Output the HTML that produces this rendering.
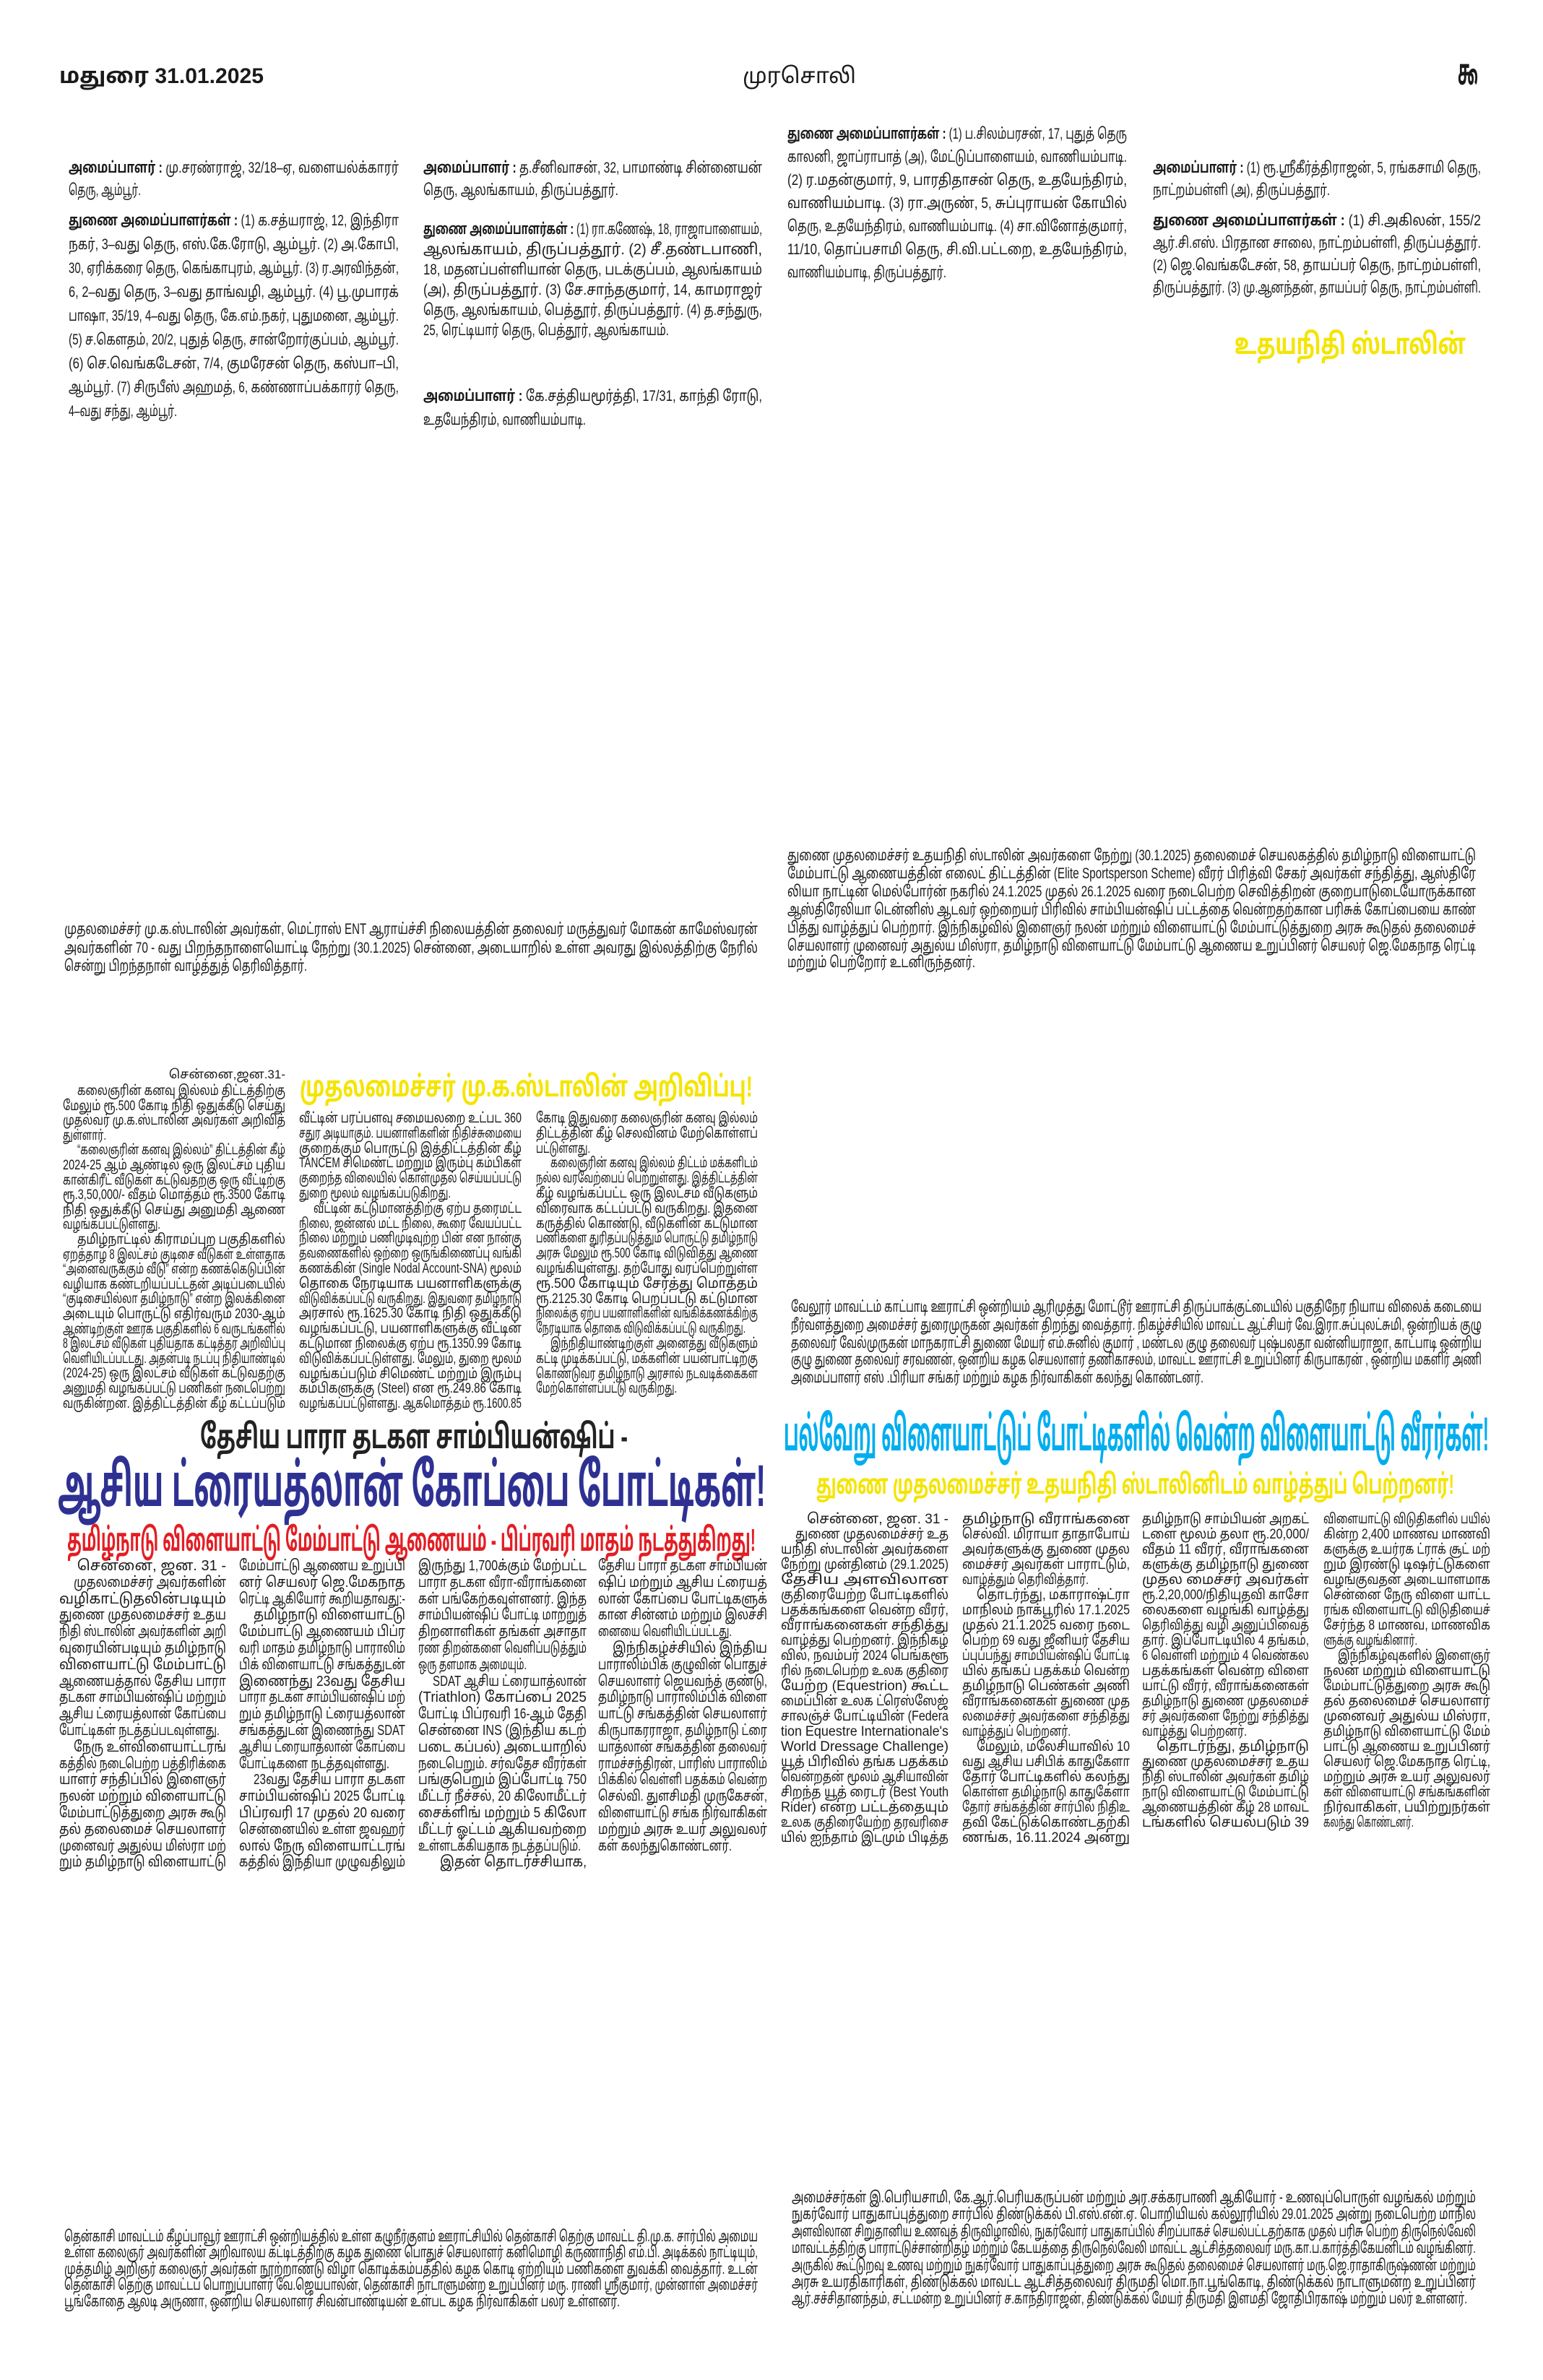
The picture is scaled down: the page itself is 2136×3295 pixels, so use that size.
<!DOCTYPE html>
<html><head><meta charset="utf-8">
<style>
html,body{margin:0;padding:0;background:#fff;}
svg{display:block;}
text{font-family:"Liberation Sans","Noto Sans Tamil","Lohit Tamil",sans-serif;fill:#1a1a1a;}
.t{font-size:21px;}
.c{font-size:21px;}
.a{font-size:19px;}
.b{font-size:20px;}
.r{font-size:19px;}
.h{font-weight:bold;}
</style></head><body>
<svg width="2136" height="3295" viewBox="0 0 2136 3295" xmlns="http://www.w3.org/2000/svg">
<rect width="2136" height="3295" fill="#fff"/>
<!-- header -->
<text x="82" y="115" font-size="30" class="h" textLength="283" lengthAdjust="spacingAndGlyphs">மதுரை  31.01.2025</text>
<text x="1028" y="115" font-size="30" textLength="157" lengthAdjust="spacingAndGlyphs">முரசொலி</text>
<text x="2018" y="117" font-size="50" class="h" textLength="28" lengthAdjust="spacingAndGlyphs">௯</text>

<!-- top col1 -->
<g class="t">
<text x="95" y="239" textLength="457" lengthAdjust="spacingAndGlyphs"><tspan font-weight="bold">அமைப்பாளர் :</tspan> மு.சரண்ராஜ், 32/18–ஏ, வளையல்க்காரர்</text>
<text x="95" y="270" textLength="100" lengthAdjust="spacingAndGlyphs">தெரு, ஆம்பூர்.</text>
<text x="95" y="312" textLength="457" lengthAdjust="spacingAndGlyphs"><tspan font-weight="bold">துணை அமைப்பாளர்கள் :</tspan> (1) க.சத்யராஜ், 12, இந்திரா</text>
<text x="95" y="345" textLength="457" lengthAdjust="spacingAndGlyphs">நகர், 3–வது தெரு, எஸ்.கே.ரோடு, ஆம்பூர். (2) அ.கோபி,</text>
<text x="95" y="378" textLength="457" lengthAdjust="spacingAndGlyphs">30, ஏரிக்கரை தெரு, கெங்காபுரம், ஆம்பூர். (3) ர.அரவிந்தன்,</text>
<text x="95" y="411" textLength="457" lengthAdjust="spacingAndGlyphs">6, 2–வது தெரு, 3–வது தாங்வழி, ஆம்பூர். (4) பூ.முபாரக்</text>
<text x="95" y="444" textLength="457" lengthAdjust="spacingAndGlyphs">பாஷா, 35/19, 4–வது தெரு, கே.எம்.நகர், புதுமனை, ஆம்பூர்.</text>
<text x="95" y="477" textLength="457" lengthAdjust="spacingAndGlyphs">(5) ச.கௌதம், 20/2, புதுத் தெரு, சான்றோர்குப்பம், ஆம்பூர்.</text>
<text x="95" y="510" textLength="457" lengthAdjust="spacingAndGlyphs">(6) செ.வெங்கடேசன், 7/4, குமரேசன் தெரு, கஸ்பா–பி,</text>
<text x="95" y="543" textLength="457" lengthAdjust="spacingAndGlyphs">ஆம்பூர். (7) சிருபீஸ் அஹமத், 6, கண்ணாப்பக்காரர் தெரு,</text>
<text x="95" y="576" textLength="150" lengthAdjust="spacingAndGlyphs">4–வது சந்து, ஆம்பூர்.</text>
</g>
<!-- top col2 -->
<g class="t">
<text x="586" y="239" textLength="469" lengthAdjust="spacingAndGlyphs"><tspan font-weight="bold">அமைப்பாளர் :</tspan> த.சீனிவாசன், 32, பாமாண்டி சின்னையன்</text>
<text x="586" y="270" textLength="270" lengthAdjust="spacingAndGlyphs">தெரு, ஆலங்காயம், திருப்பத்தூர்.</text>
<text x="586" y="324" textLength="469" lengthAdjust="spacingAndGlyphs"><tspan font-weight="bold">துணை அமைப்பாளர்கள் :</tspan> (1) ரா.கணேஷ், 18, ராஜாபாளையம்,</text>
<text x="586" y="352" textLength="469" lengthAdjust="spacingAndGlyphs">ஆலங்காயம், திருப்பத்தூர். (2) சீ.தண்டபாணி,</text>
<text x="586" y="380" textLength="469" lengthAdjust="spacingAndGlyphs">18, மதனப்பள்ளியான் தெரு, படக்குப்பம், ஆலங்காயம்</text>
<text x="586" y="408" textLength="469" lengthAdjust="spacingAndGlyphs">(அ), திருப்பத்தூர். (3) சே.சாந்தகுமார், 14, காமராஜர்</text>
<text x="586" y="436" textLength="469" lengthAdjust="spacingAndGlyphs">தெரு, ஆலங்காயம், பெத்தூர், திருப்பத்தூர். (4) த.சந்துரு,</text>
<text x="586" y="464" textLength="340" lengthAdjust="spacingAndGlyphs">25, ரெட்டியார் தெரு, பெத்தூர், ஆலங்காயம்.</text>
<text x="586" y="555" textLength="469" lengthAdjust="spacingAndGlyphs"><tspan font-weight="bold">அமைப்பாளர் :</tspan> கே.சத்தியமூர்த்தி, 17/31, காந்தி ரோடு,</text>
<text x="586" y="588" textLength="225" lengthAdjust="spacingAndGlyphs">உதயேந்திரம், வாணியம்பாடி.</text>
</g>
<!-- top col3 -->
<g class="t">
<text x="1090" y="192" textLength="470" lengthAdjust="spacingAndGlyphs"><tspan font-weight="bold">துணை அமைப்பாளர்கள் :</tspan> (1) ப.சிலம்பரசன், 17, புதுத் தெரு</text>
<text x="1090" y="224" textLength="470" lengthAdjust="spacingAndGlyphs">காலனி, ஜாப்ராபாத் (அ), மேட்டுப்பாளையம், வாணியம்பாடி.</text>
<text x="1090" y="256" textLength="470" lengthAdjust="spacingAndGlyphs">(2) ர.மதன்குமார், 9, பாரதிதாசன் தெரு, உதயேந்திரம்,</text>
<text x="1090" y="288" textLength="470" lengthAdjust="spacingAndGlyphs">வாணியம்பாடி. (3) ரா.அருண், 5, சுப்புராயன் கோயில்</text>
<text x="1090" y="320" textLength="470" lengthAdjust="spacingAndGlyphs">தெரு, உதயேந்திரம், வாணியம்பாடி. (4) சா.வினோத்குமார்,</text>
<text x="1090" y="352" textLength="470" lengthAdjust="spacingAndGlyphs">11/10, தொப்பசாமி தெரு, சி.வி.பட்டறை, உதயேந்திரம்,</text>
<text x="1090" y="384" textLength="220" lengthAdjust="spacingAndGlyphs">வாணியம்பாடி, திருப்பத்தூர்.</text>
</g>
<!-- top col4 -->
<g class="t">
<text x="1596" y="239" textLength="454" lengthAdjust="spacingAndGlyphs"><tspan font-weight="bold">அமைப்பாளர் :</tspan> (1) ரூ.ஸ்ரீகீர்த்திராஜன், 5, ரங்கசாமி தெரு,</text>
<text x="1596" y="270" textLength="245" lengthAdjust="spacingAndGlyphs">நாட்றம்பள்ளி (அ), திருப்பத்தூர்.</text>
<text x="1596" y="312" textLength="454" lengthAdjust="spacingAndGlyphs"><tspan font-weight="bold">துணை அமைப்பாளர்கள் :</tspan> (1) சி.அகிலன், 155/2</text>
<text x="1596" y="343" textLength="454" lengthAdjust="spacingAndGlyphs">ஆர்.சி.எஸ். பிரதான சாலை, நாட்றம்பள்ளி, திருப்பத்தூர்.</text>
<text x="1596" y="374" textLength="454" lengthAdjust="spacingAndGlyphs">(2) ஜெ.வெங்கடேசன், 58, தாயப்பர் தெரு, நாட்றம்பள்ளி,</text>
<text x="1596" y="405" textLength="454" lengthAdjust="spacingAndGlyphs">திருப்பத்தூர். (3) மு.ஆனந்தன், தாயப்பர் தெரு, நாட்றம்பள்ளி.</text>
</g>
<text x="1709" y="490" font-size="40" class="h" style="fill:#f5e400" textLength="320" lengthAdjust="spacingAndGlyphs">உதயநிதி ஸ்டாலின்</text>

<!-- right photo caption -->
<g class="c">
<text x="1090" y="1191" textLength="953" lengthAdjust="spacingAndGlyphs">துணை முதலமைச்சர் உதயநிதி ஸ்டாலின் அவர்களை நேற்று (30.1.2025) தலைமைச் செயலகத்தில் தமிழ்நாடு விளையாட்டு</text>
<text x="1090" y="1216" textLength="953" lengthAdjust="spacingAndGlyphs">மேம்பாட்டு ஆணையத்தின் எலைட் திட்டத்தின் (Elite Sportsperson Scheme) வீரர் பிரித்வி சேகர் அவர்கள் சந்தித்து, ஆஸ்திரே</text>
<text x="1090" y="1241" textLength="953" lengthAdjust="spacingAndGlyphs">லியா நாட்டின் மெல்போர்ன் நகரில் 24.1.2025 முதல் 26.1.2025 வரை நடைபெற்ற செவித்திறன் குறைபாடுடையோருக்கான</text>
<text x="1090" y="1266" textLength="953" lengthAdjust="spacingAndGlyphs">ஆஸ்திரேலியா டென்னிஸ் ஆடவர் ஒற்றையர் பிரிவில் சாம்பியன்ஷிப் பட்டத்தை வென்றதற்கான பரிசுக் கோப்பையை காண்</text>
<text x="1090" y="1291" textLength="953" lengthAdjust="spacingAndGlyphs">பித்து வாழ்த்துப் பெற்றார். இந்நிகழ்வில் இளைஞர் நலன் மற்றும் விளையாட்டு மேம்பாட்டுத்துறை அரசு கூடுதல் தலைமைச்</text>
<text x="1090" y="1316" textLength="953" lengthAdjust="spacingAndGlyphs">செயலாளர் முனைவர் அதுல்ய மிஸ்ரா, தமிழ்நாடு விளையாட்டு மேம்பாட்டு ஆணைய உறுப்பினர் செயலர் ஜெ.மேகநாத ரெட்டி</text>
<text x="1090" y="1339" textLength="260" lengthAdjust="spacingAndGlyphs">மற்றும் பெற்றோர் உடனிருந்தனர்.</text>
</g>
<!-- left photo caption -->
<g class="c">
<text x="89" y="1293" textLength="960" lengthAdjust="spacingAndGlyphs">முதலமைச்சர் மு.க.ஸ்டாலின் அவர்கள், மெட்ராஸ் ENT ஆராய்ச்சி நிலையத்தின் தலைவர் மருத்துவர் மோகன் காமேஸ்வரன்</text>
<text x="89" y="1319" textLength="960" lengthAdjust="spacingAndGlyphs">அவர்களின் 70 - வது பிறந்தநாளையொட்டி நேற்று (30.1.2025) சென்னை, அடையாறில் உள்ள அவரது இல்லத்திற்கு நேரில்</text>
<text x="89" y="1344" textLength="336" lengthAdjust="spacingAndGlyphs">சென்று பிறந்தநாள் வாழ்த்துத் தெரிவித்தார்.</text>
</g>

<!-- Article 1 -->
<text x="415" y="1518" font-size="40" class="h" style="fill:#f5e400" textLength="627" lengthAdjust="spacingAndGlyphs">முதலமைச்சர் மு.க.ஸ்டாலின் அறிவிப்பு!</text>
<text x="395" y="1493" font-size="17" text-anchor="end">சென்னை,ஜன.31-</text>
<g class="a">
<text x="107" y="1516" textLength="288" lengthAdjust="spacingAndGlyphs">கலைஞரின் கனவு இல்லம் திட்டத்திற்கு</text>
<text x="87" y="1537" textLength="308" lengthAdjust="spacingAndGlyphs">மேலும் ரூ.500 கோடி நிதி ஒதுக்கீடு செய்து</text>
<text x="87" y="1557" textLength="308" lengthAdjust="spacingAndGlyphs">முதல்வர் மு.க.ஸ்டாலின் அவர்கள் அறிவித்</text>
<text x="87" y="1578" textLength="60" lengthAdjust="spacingAndGlyphs">துள்ளார்.</text>
<text x="107" y="1598" textLength="288" lengthAdjust="spacingAndGlyphs">“கலைஞரின் கனவு இல்லம்” திட்டத்தின் கீழ்</text>
<text x="87" y="1619" textLength="308" lengthAdjust="spacingAndGlyphs">2024-25 ஆம் ஆண்டில் ஒரு இலட்சம் புதிய</text>
<text x="87" y="1640" textLength="308" lengthAdjust="spacingAndGlyphs">கான்கிரீட் வீடுகள் கட்டுவதற்கு ஒரு வீட்டிற்கு</text>
<text x="87" y="1660" textLength="308" lengthAdjust="spacingAndGlyphs">ரூ.3,50,000/- வீதம் மொத்தம் ரூ.3500 கோடி</text>
<text x="87" y="1681" textLength="308" lengthAdjust="spacingAndGlyphs">நிதி ஒதுக்கீடு செய்து அனுமதி ஆணை</text>
<text x="87" y="1701" textLength="135" lengthAdjust="spacingAndGlyphs">வழங்கப்பட்டுள்ளது.</text>
<text x="107" y="1722" textLength="288" lengthAdjust="spacingAndGlyphs">தமிழ்நாட்டில் கிராமப்புற பகுதிகளில்</text>
<text x="87" y="1743" textLength="308" lengthAdjust="spacingAndGlyphs">ஏறத்தாழ 8 இலட்சம் குடிசை வீடுகள் உள்ளதாக</text>
<text x="87" y="1763" textLength="308" lengthAdjust="spacingAndGlyphs">“அனைவருக்கும் வீடு” என்ற கணக்கெடுப்பின்</text>
<text x="87" y="1784" textLength="308" lengthAdjust="spacingAndGlyphs">வழியாக கண்டறியப்பட்டதன் அடிப்படையில்</text>
<text x="87" y="1804" textLength="308" lengthAdjust="spacingAndGlyphs">“குடிசையில்லா தமிழ்நாடு” என்ற இலக்கினை</text>
<text x="87" y="1825" textLength="308" lengthAdjust="spacingAndGlyphs">அடையும் பொருட்டு எதிர்வரும் 2030-ஆம்</text>
<text x="87" y="1846" textLength="308" lengthAdjust="spacingAndGlyphs">ஆண்டிற்குள் ஊரக பகுதிகளில் 6 வருடங்களில்</text>
<text x="87" y="1866" textLength="308" lengthAdjust="spacingAndGlyphs">8 இலட்சம் வீடுகள் புதியதாக கட்டித்தர அறிவிப்பு</text>
<text x="87" y="1887" textLength="308" lengthAdjust="spacingAndGlyphs">வெளியிடப்பட்டது. அதன்படி நடப்பு நிதியாண்டில்</text>
<text x="87" y="1907" textLength="308" lengthAdjust="spacingAndGlyphs">(2024-25) ஒரு இலட்சம் வீடுகள் கட்டுவதற்கு</text>
<text x="87" y="1928" textLength="308" lengthAdjust="spacingAndGlyphs">அனுமதி வழங்கப்பட்டு பணிகள் நடைபெற்று</text>
<text x="87" y="1949" textLength="308" lengthAdjust="spacingAndGlyphs">வருகின்றன. இத்திட்டத்தின் கீழ் கட்டப்படும்</text>
</g>
<g class="a">
<text x="414" y="1554" textLength="308" lengthAdjust="spacingAndGlyphs">வீட்டின் பரப்பளவு சமையலறை உட்பட 360</text>
<text x="414" y="1575" textLength="308" lengthAdjust="spacingAndGlyphs">சதுர அடியாகும். பயனாளிகளின் நிதிச்சுமையை</text>
<text x="414" y="1596" textLength="308" lengthAdjust="spacingAndGlyphs">குறைக்கும் பொருட்டு இத்திட்டத்தின் கீழ்</text>
<text x="414" y="1616" textLength="308" lengthAdjust="spacingAndGlyphs">TANCEM சிமெண்ட் மற்றும் இரும்பு கம்பிகள்</text>
<text x="414" y="1637" textLength="308" lengthAdjust="spacingAndGlyphs">குறைந்த விலையில் கொள்முதல் செய்யப்பட்டு</text>
<text x="414" y="1658" textLength="210" lengthAdjust="spacingAndGlyphs">துறை மூலம் வழங்கப்படுகிறது.</text>
<text x="434" y="1679" textLength="288" lengthAdjust="spacingAndGlyphs">வீட்டின் கட்டுமானத்திற்கு ஏற்ப தரைமட்ட</text>
<text x="414" y="1700" textLength="308" lengthAdjust="spacingAndGlyphs">நிலை, ஜன்னல் மட்ட நிலை, கூரை வேயப்பட்ட</text>
<text x="414" y="1720" textLength="308" lengthAdjust="spacingAndGlyphs">நிலை மற்றும் பணிமுடிவுற்ற பின் என நான்கு</text>
<text x="414" y="1741" textLength="308" lengthAdjust="spacingAndGlyphs">தவணைகளில் ஒற்றை ஒருங்கிணைப்பு வங்கி</text>
<text x="414" y="1762" textLength="308" lengthAdjust="spacingAndGlyphs">கணக்கின் (Single Nodal Account-SNA) மூலம்</text>
<text x="414" y="1783" textLength="308" lengthAdjust="spacingAndGlyphs">தொகை நேரடியாக பயனாளிகளுக்கு</text>
<text x="414" y="1804" textLength="308" lengthAdjust="spacingAndGlyphs">விடுவிக்கப்பட்டு வருகிறது. இதுவரை தமிழ்நாடு</text>
<text x="414" y="1824" textLength="308" lengthAdjust="spacingAndGlyphs">அரசால் ரூ.1625.30 கோடி நிதி ஒதுக்கீடு</text>
<text x="414" y="1845" textLength="308" lengthAdjust="spacingAndGlyphs">வழங்கப்பட்டு, பயனாளிகளுக்கு வீட்டின்</text>
<text x="414" y="1866" textLength="308" lengthAdjust="spacingAndGlyphs">கட்டுமான நிலைக்கு ஏற்ப ரூ.1350.99 கோடி</text>
<text x="414" y="1887" textLength="308" lengthAdjust="spacingAndGlyphs">விடுவிக்கப்பட்டுள்ளது. மேலும், துறை மூலம்</text>
<text x="414" y="1908" textLength="308" lengthAdjust="spacingAndGlyphs">வழங்கப்படும் சிமெண்ட் மற்றும் இரும்பு</text>
<text x="414" y="1928" textLength="308" lengthAdjust="spacingAndGlyphs">கம்பிகளுக்கு (Steel) என ரூ.249.86 கோடி</text>
<text x="414" y="1949" textLength="308" lengthAdjust="spacingAndGlyphs">வழங்கப்பட்டுள்ளது. ஆகமொத்தம் ரூ.1600.85</text>
</g>
<g class="a">
<text x="742" y="1554" textLength="307" lengthAdjust="spacingAndGlyphs">கோடி இதுவரை கலைஞரின் கனவு இல்லம்</text>
<text x="742" y="1575" textLength="307" lengthAdjust="spacingAndGlyphs">திட்டத்தின் கீழ் செலவினம் மேற்கொள்ளப்</text>
<text x="742" y="1596" textLength="75" lengthAdjust="spacingAndGlyphs">பட்டுள்ளது.</text>
<text x="762" y="1616" textLength="287" lengthAdjust="spacingAndGlyphs">கலைஞரின் கனவு இல்லம் திட்டம் மக்களிடம்</text>
<text x="742" y="1637" textLength="307" lengthAdjust="spacingAndGlyphs">நல்ல வரவேற்பைப் பெற்றுள்ளது. இத்திட்டத்தின்</text>
<text x="742" y="1658" textLength="307" lengthAdjust="spacingAndGlyphs">கீழ் வழங்கப்பட்ட ஒரு இலட்சம் வீடுகளும்</text>
<text x="742" y="1679" textLength="307" lengthAdjust="spacingAndGlyphs">விரைவாக கட்டப்பட்டு வருகிறது. இதனை</text>
<text x="742" y="1700" textLength="307" lengthAdjust="spacingAndGlyphs">கருத்தில் கொண்டு, வீடுகளின் கட்டுமான</text>
<text x="742" y="1720" textLength="307" lengthAdjust="spacingAndGlyphs">பணிகளை துரிதப்படுத்தும் பொருட்டு தமிழ்நாடு</text>
<text x="742" y="1741" textLength="307" lengthAdjust="spacingAndGlyphs">அரசு மேலும் ரூ.500 கோடி விடுவித்து ஆணை</text>
<text x="742" y="1762" textLength="307" lengthAdjust="spacingAndGlyphs">வழங்கியுள்ளது. தற்போது வரப்பெற்றுள்ள</text>
<text x="742" y="1783" textLength="307" lengthAdjust="spacingAndGlyphs">ரூ.500 கோடியும் சேர்த்து மொத்தம்</text>
<text x="742" y="1804" textLength="307" lengthAdjust="spacingAndGlyphs">ரூ.2125.30 கோடி பெறப்பட்டு கட்டுமான</text>
<text x="742" y="1824" textLength="307" lengthAdjust="spacingAndGlyphs">நிலைக்கு ஏற்ப பயனாளிகளின் வங்கிக்கணக்கிற்கு</text>
<text x="742" y="1845" textLength="290" lengthAdjust="spacingAndGlyphs">நேரடியாக தொகை விடுவிக்கப்பட்டு வருகிறது.</text>
<text x="762" y="1866" textLength="287" lengthAdjust="spacingAndGlyphs">இந்நிதியாண்டிற்குள் அனைத்து வீடுகளும்</text>
<text x="742" y="1887" textLength="307" lengthAdjust="spacingAndGlyphs">கட்டி முடிக்கப்பட்டு, மக்களின் பயன்பாட்டிற்கு</text>
<text x="742" y="1908" textLength="307" lengthAdjust="spacingAndGlyphs">கொண்டுவர தமிழ்நாடு அரசால் நடவடிக்கைகள்</text>
<text x="742" y="1928" textLength="195" lengthAdjust="spacingAndGlyphs">மேற்கொள்ளப்பட்டு வருகிறது.</text>
</g>

<!-- Vellore caption -->
<g class="c">
<text x="1095" y="1816" textLength="956" lengthAdjust="spacingAndGlyphs">வேலூர் மாவட்டம் காட்பாடி ஊராட்சி ஒன்றியம் ஆரிமுத்து மோட்டூர் ஊராட்சி திருப்பாக்குட்டையில் பகுதிநேர நியாய விலைக் கடையை</text>
<text x="1095" y="1841" textLength="956" lengthAdjust="spacingAndGlyphs">நீர்வளத்துறை அமைச்சர் துரைமுருகன் அவர்கள் திறந்து வைத்தார். நிகழ்ச்சியில் மாவட்ட ஆட்சியர் வே.இரா.சுப்புலட்சுமி, ஒன்றியக் குழு</text>
<text x="1095" y="1866" textLength="956" lengthAdjust="spacingAndGlyphs">தலைவர் வேல்முருகன் மாநகராட்சி துணை மேயர் எம்.சுனில் குமார் , மண்டல குழு தலைவர் புஷ்பலதா வன்னியராஜா, காட்பாடி ஒன்றிய</text>
<text x="1095" y="1889" textLength="956" lengthAdjust="spacingAndGlyphs">குழு துணை தலைவர் சரவணன், ஒன்றிய கழக செயலாளர் தணிகாசலம், மாவட்ட ஊராட்சி உறுப்பினர் கிருபாகரன் , ஒன்றிய மகளிர் அணி</text>
<text x="1095" y="1914" textLength="571" lengthAdjust="spacingAndGlyphs">அமைப்பாளர்  எஸ் .பிரியா சங்கர்  மற்றும் கழக நிர்வாகிகள் கலந்து கொண்டனர்.</text>
</g>

<!-- Headlines -->
<text x="277" y="2005" font-size="46" class="h" style="fill:#222" textLength="592" lengthAdjust="spacingAndGlyphs">தேசிய பாரா தடகள சாம்பியன்ஷிப் -</text>
<text x="80" y="2085" font-size="82" class="h" style="fill:#2e3192" textLength="980" lengthAdjust="spacingAndGlyphs">ஆசிய ட்ரையத்லான் கோப்பை போட்டிகள்!</text>
<text x="93" y="2147" font-size="44" class="h" style="fill:#e31e24" textLength="953" lengthAdjust="spacingAndGlyphs">தமிழ்நாடு விளையாட்டு மேம்பாட்டு ஆணையம் - பிப்ரவரி மாதம் நடத்துகிறது!</text>
<text x="1085" y="2008" font-size="66" class="h" style="fill:#00aeef" textLength="976" lengthAdjust="spacingAndGlyphs">பல்வேறு விளையாட்டுப் போட்டிகளில் வென்ற விளையாட்டு வீரர்கள்!</text>
<text x="1130" y="2068" font-size="38" class="h" style="fill:#f5e400" textLength="883" lengthAdjust="spacingAndGlyphs">துணை முதலமைச்சர் உதயநிதி ஸ்டாலினிடம் வாழ்த்துப் பெற்றனர்!</text>

<!-- Left body col1 -->
<g class="b">
<text x="313" y="2174" text-anchor="end">சென்னை, ஜன. 31 -</text>
<text x="102" y="2197" textLength="211" lengthAdjust="spacingAndGlyphs">முதலமைச்சர் அவர்களின்</text>
<text x="82" y="2220" textLength="231" lengthAdjust="spacingAndGlyphs">வழிகாட்டுதலின்படியும்</text>
<text x="82" y="2242" textLength="231" lengthAdjust="spacingAndGlyphs">துணை முதலமைச்சர் உதய</text>
<text x="82" y="2265" textLength="231" lengthAdjust="spacingAndGlyphs">நிதி ஸ்டாலின் அவர்களின் அறி</text>
<text x="82" y="2288" textLength="231" lengthAdjust="spacingAndGlyphs">வுரையின்படியும் தமிழ்நாடு</text>
<text x="82" y="2311" textLength="231" lengthAdjust="spacingAndGlyphs">விளையாட்டு மேம்பாட்டு</text>
<text x="82" y="2334" textLength="231" lengthAdjust="spacingAndGlyphs">ஆணையத்தால் தேசிய பாரா</text>
<text x="82" y="2356" textLength="231" lengthAdjust="spacingAndGlyphs">தடகள சாம்பியன்ஷிப் மற்றும்</text>
<text x="82" y="2379" textLength="231" lengthAdjust="spacingAndGlyphs">ஆசிய ட்ரையத்லான் கோப்பை</text>
<text x="82" y="2402" textLength="222" lengthAdjust="spacingAndGlyphs">போட்டிகள் நடத்தப்படவுள்ளது.</text>
<text x="102" y="2425" textLength="211" lengthAdjust="spacingAndGlyphs">நேரு உள்விளையாட்டரங்</text>
<text x="82" y="2448" textLength="231" lengthAdjust="spacingAndGlyphs">கத்தில் நடைபெற்ற பத்திரிக்கை</text>
<text x="82" y="2470" textLength="231" lengthAdjust="spacingAndGlyphs">யாளர் சந்திப்பில் இளைஞர்</text>
<text x="82" y="2493" textLength="231" lengthAdjust="spacingAndGlyphs">நலன் மற்றும் விளையாட்டு</text>
<text x="82" y="2516" textLength="231" lengthAdjust="spacingAndGlyphs">மேம்பாட்டுத்துறை அரசு கூடு</text>
<text x="82" y="2539" textLength="231" lengthAdjust="spacingAndGlyphs">தல் தலைமைச் செயலாளர்</text>
<text x="82" y="2562" textLength="231" lengthAdjust="spacingAndGlyphs">முனைவர் அதுல்ய மிஸ்ரா மற்</text>
<text x="82" y="2584" textLength="231" lengthAdjust="spacingAndGlyphs">றும் தமிழ்நாடு விளையாட்டு</text>
</g>
<g class="b">
<text x="331" y="2174" textLength="230" lengthAdjust="spacingAndGlyphs">மேம்பாட்டு ஆணைய உறுப்பி</text>
<text x="331" y="2197" textLength="230" lengthAdjust="spacingAndGlyphs">னர் செயலர் ஜெ.மேகநாத</text>
<text x="331" y="2220" textLength="230" lengthAdjust="spacingAndGlyphs">ரெட்டி ஆகியோர் கூறியதாவது:-</text>
<text x="351" y="2242" textLength="210" lengthAdjust="spacingAndGlyphs">தமிழ்நாடு விளையாட்டு</text>
<text x="331" y="2265" textLength="230" lengthAdjust="spacingAndGlyphs">மேம்பாட்டு ஆணையம் பிப்ர</text>
<text x="331" y="2288" textLength="230" lengthAdjust="spacingAndGlyphs">வரி மாதம் தமிழ்நாடு பாராலிம்</text>
<text x="331" y="2311" textLength="230" lengthAdjust="spacingAndGlyphs">பிக் விளையாட்டு சங்கத்துடன்</text>
<text x="331" y="2334" textLength="230" lengthAdjust="spacingAndGlyphs">இணைந்து 23வது தேசிய</text>
<text x="331" y="2356" textLength="230" lengthAdjust="spacingAndGlyphs">பாரா தடகள சாம்பியன்ஷிப் மற்</text>
<text x="331" y="2379" textLength="230" lengthAdjust="spacingAndGlyphs">றும் தமிழ்நாடு ட்ரையத்லான்</text>
<text x="331" y="2402" textLength="230" lengthAdjust="spacingAndGlyphs">சங்கத்துடன் இணைந்து SDAT</text>
<text x="331" y="2425" textLength="230" lengthAdjust="spacingAndGlyphs">ஆசிய ட்ரையாத்லான் கோப்பை</text>
<text x="331" y="2448" textLength="208" lengthAdjust="spacingAndGlyphs">போட்டிகளை நடத்தவுள்ளது.</text>
<text x="351" y="2470" textLength="210" lengthAdjust="spacingAndGlyphs">23வது தேசிய பாரா தடகள</text>
<text x="331" y="2493" textLength="230" lengthAdjust="spacingAndGlyphs">சாம்பியன்ஷிப் 2025 போட்டி</text>
<text x="331" y="2516" textLength="230" lengthAdjust="spacingAndGlyphs">பிப்ரவரி 17 முதல் 20 வரை</text>
<text x="331" y="2539" textLength="230" lengthAdjust="spacingAndGlyphs">சென்னையில் உள்ள ஜவஹர்</text>
<text x="331" y="2562" textLength="230" lengthAdjust="spacingAndGlyphs">லால் நேரு விளையாட்டரங்</text>
<text x="331" y="2584" textLength="230" lengthAdjust="spacingAndGlyphs">கத்தில் இந்தியா முழுவதிலும்</text>
</g>
<g class="b">
<text x="579" y="2174" textLength="233" lengthAdjust="spacingAndGlyphs">இருந்து 1,700க்கும் மேற்பட்ட</text>
<text x="579" y="2197" textLength="233" lengthAdjust="spacingAndGlyphs">பாரா தடகள வீரா-வீராங்கனை</text>
<text x="579" y="2220" textLength="233" lengthAdjust="spacingAndGlyphs">கள் பங்கேற்கவுள்ளனர். இந்த</text>
<text x="579" y="2242" textLength="233" lengthAdjust="spacingAndGlyphs">சாம்பியன்ஷிப் போட்டி மாற்றுத்</text>
<text x="579" y="2265" textLength="233" lengthAdjust="spacingAndGlyphs">திறனாளிகள் தங்கள் அசாதா</text>
<text x="579" y="2288" textLength="233" lengthAdjust="spacingAndGlyphs">ரண திறன்களை வெளிப்படுத்தும்</text>
<text x="579" y="2311" textLength="150" lengthAdjust="spacingAndGlyphs">ஒரு தளமாக அமையும்.</text>
<text x="599" y="2334" textLength="213" lengthAdjust="spacingAndGlyphs">SDAT ஆசிய ட்ரையாத்லான்</text>
<text x="579" y="2356" textLength="233" lengthAdjust="spacingAndGlyphs">(Triathlon) கோப்பை 2025</text>
<text x="579" y="2379" textLength="233" lengthAdjust="spacingAndGlyphs">போட்டி பிப்ரவரி 16-ஆம் தேதி</text>
<text x="579" y="2402" textLength="233" lengthAdjust="spacingAndGlyphs">சென்னை INS (இந்திய கடற்</text>
<text x="579" y="2425" textLength="233" lengthAdjust="spacingAndGlyphs">படை கப்பல்) அடையாறில்</text>
<text x="579" y="2448" textLength="233" lengthAdjust="spacingAndGlyphs">நடைபெறும். சர்வதேச வீரர்கள்</text>
<text x="579" y="2470" textLength="233" lengthAdjust="spacingAndGlyphs">பங்குபெறும் இப்போட்டி 750</text>
<text x="579" y="2493" textLength="233" lengthAdjust="spacingAndGlyphs">மீட்டர் நீச்சல், 20 கிலோமீட்டர்</text>
<text x="579" y="2516" textLength="233" lengthAdjust="spacingAndGlyphs">சைக்ளிங் மற்றும் 5 கிலோ</text>
<text x="579" y="2539" textLength="233" lengthAdjust="spacingAndGlyphs">மீட்டர் ஓட்டம் ஆகியவற்றை</text>
<text x="579" y="2562" textLength="225" lengthAdjust="spacingAndGlyphs">உள்ளடக்கியதாக நடத்தப்படும்.</text>
<text x="609" y="2584" textLength="203" lengthAdjust="spacingAndGlyphs">இதன் தொடர்ச்சியாக,</text>
</g>
<g class="b">
<text x="828" y="2174" textLength="234" lengthAdjust="spacingAndGlyphs">தேசிய பாரா தடகள சாம்பியன்</text>
<text x="828" y="2197" textLength="234" lengthAdjust="spacingAndGlyphs">ஷிப் மற்றும் ஆசிய ட்ரையத்</text>
<text x="828" y="2220" textLength="234" lengthAdjust="spacingAndGlyphs">லான் கோப்பை போட்டிகளுக்</text>
<text x="828" y="2242" textLength="234" lengthAdjust="spacingAndGlyphs">கான சின்னம் மற்றும் இலச்சி</text>
<text x="828" y="2265" textLength="185" lengthAdjust="spacingAndGlyphs">னையை வெளியிடப்பட்டது.</text>
<text x="848" y="2288" textLength="214" lengthAdjust="spacingAndGlyphs">இந்நிகழ்ச்சியில் இந்திய</text>
<text x="828" y="2311" textLength="234" lengthAdjust="spacingAndGlyphs">பாராலிம்பிக் குழுவின் பொதுச்</text>
<text x="828" y="2334" textLength="234" lengthAdjust="spacingAndGlyphs">செயலாளர் ஜெயவந்த் குண்டு,</text>
<text x="828" y="2356" textLength="234" lengthAdjust="spacingAndGlyphs">தமிழ்நாடு பாராலிம்பிக் விளை</text>
<text x="828" y="2379" textLength="234" lengthAdjust="spacingAndGlyphs">யாட்டு சங்கத்தின் செயலாளர்</text>
<text x="828" y="2402" textLength="234" lengthAdjust="spacingAndGlyphs">கிருபாகரராஜா, தமிழ்நாடு ட்ரை</text>
<text x="828" y="2425" textLength="234" lengthAdjust="spacingAndGlyphs">யாத்லான் சங்கத்தின் தலைவர்</text>
<text x="828" y="2448" textLength="234" lengthAdjust="spacingAndGlyphs">ராமச்சந்திரன், பாரிஸ் பாராலிம்</text>
<text x="828" y="2470" textLength="234" lengthAdjust="spacingAndGlyphs">பிக்கில் வெள்ளி பதக்கம் வென்ற</text>
<text x="828" y="2493" textLength="234" lengthAdjust="spacingAndGlyphs">செல்வி. துளசிமதி முருகேசன்,</text>
<text x="828" y="2516" textLength="234" lengthAdjust="spacingAndGlyphs">விளையாட்டு சங்க நிர்வாகிகள்</text>
<text x="828" y="2539" textLength="234" lengthAdjust="spacingAndGlyphs">மற்றும் அரசு உயர் அலுவலர்</text>
<text x="828" y="2562" textLength="185" lengthAdjust="spacingAndGlyphs">கள் கலந்துகொண்டனர்.</text>
</g>

<!-- Right body -->
<g class="r">
<text x="1313" y="2109" text-anchor="end">சென்னை, ஜன. 31 -</text>
<text x="1101" y="2130" textLength="212" lengthAdjust="spacingAndGlyphs">துணை முதலமைச்சர் உத</text>
<text x="1081" y="2151" textLength="232" lengthAdjust="spacingAndGlyphs">யநிதி ஸ்டாலின் அவர்களை</text>
<text x="1081" y="2172" textLength="232" lengthAdjust="spacingAndGlyphs">நேற்று முன்தினம் (29.1.2025)</text>
<text x="1081" y="2193" textLength="232" lengthAdjust="spacingAndGlyphs">தேசிய அளவிலான</text>
<text x="1081" y="2214" textLength="232" lengthAdjust="spacingAndGlyphs">குதிரையேற்ற போட்டிகளில்</text>
<text x="1081" y="2235" textLength="232" lengthAdjust="spacingAndGlyphs">பதக்கங்களை வென்ற வீரர்,</text>
<text x="1081" y="2256" textLength="232" lengthAdjust="spacingAndGlyphs">வீராங்கனைகள் சந்தித்து</text>
<text x="1081" y="2277" textLength="232" lengthAdjust="spacingAndGlyphs">வாழ்த்து பெற்றனர். இந்நிகழ்</text>
<text x="1081" y="2298" textLength="232" lengthAdjust="spacingAndGlyphs">வில், நவம்பர் 2024 பெங்களூ</text>
<text x="1081" y="2319" textLength="232" lengthAdjust="spacingAndGlyphs">ரில் நடைபெற்ற உலக குதிரை</text>
<text x="1081" y="2340" textLength="232" lengthAdjust="spacingAndGlyphs">யேற்ற (Equestrion) கூட்ட</text>
<text x="1081" y="2361" textLength="232" lengthAdjust="spacingAndGlyphs">மைப்பின் உலக ட்ரெஸ்ஸேஜ்</text>
<text x="1081" y="2382" textLength="232" lengthAdjust="spacingAndGlyphs">சாலஞ்ச் போட்டியின் (Federa</text>
<text x="1081" y="2403" textLength="232" lengthAdjust="spacingAndGlyphs">tion Equestre Internationale's</text>
<text x="1081" y="2424" textLength="232" lengthAdjust="spacingAndGlyphs">World Dressage Challenge)</text>
<text x="1081" y="2445" textLength="232" lengthAdjust="spacingAndGlyphs">யூத் பிரிவில் தங்க பதக்கம்</text>
<text x="1081" y="2466" textLength="232" lengthAdjust="spacingAndGlyphs">வென்றதன் மூலம் ஆசியாவின்</text>
<text x="1081" y="2487" textLength="232" lengthAdjust="spacingAndGlyphs">சிறந்த யூத் ரைடர் (Best Youth</text>
<text x="1081" y="2508" textLength="232" lengthAdjust="spacingAndGlyphs">Rider) என்ற பட்டத்தையும்</text>
<text x="1081" y="2529" textLength="232" lengthAdjust="spacingAndGlyphs">உலக குதிரையேற்ற தரவரிசை</text>
<text x="1081" y="2550" textLength="232" lengthAdjust="spacingAndGlyphs">யில் ஐந்தாம் இடமும் பிடித்த</text>
</g>
<g class="r">
<text x="1332" y="2109" textLength="232" lengthAdjust="spacingAndGlyphs">தமிழ்நாடு வீராங்கனை</text>
<text x="1332" y="2130" textLength="232" lengthAdjust="spacingAndGlyphs">செல்வி. மிராயா தாதாபோய்</text>
<text x="1332" y="2151" textLength="232" lengthAdjust="spacingAndGlyphs">அவர்களுக்கு துணை முதல</text>
<text x="1332" y="2172" textLength="232" lengthAdjust="spacingAndGlyphs">மைச்சர் அவர்கள் பாராட்டும்,</text>
<text x="1332" y="2193" textLength="175" lengthAdjust="spacingAndGlyphs">வாழ்த்தும் தெரிவித்தார்.</text>
<text x="1352" y="2214" textLength="212" lengthAdjust="spacingAndGlyphs">தொடர்ந்து, மகாராஷ்ட்ரா</text>
<text x="1332" y="2235" textLength="232" lengthAdjust="spacingAndGlyphs">மாநிலம் நாக்பூரில் 17.1.2025</text>
<text x="1332" y="2256" textLength="232" lengthAdjust="spacingAndGlyphs">முதல் 21.1.2025 வரை நடை</text>
<text x="1332" y="2277" textLength="232" lengthAdjust="spacingAndGlyphs">பெற்ற 69 வது ஜீனியர் தேசிய</text>
<text x="1332" y="2298" textLength="232" lengthAdjust="spacingAndGlyphs">ப்புப்பந்து சாம்பியன்ஷிப் போட்டி</text>
<text x="1332" y="2319" textLength="232" lengthAdjust="spacingAndGlyphs">யில் தங்கப் பதக்கம் வென்ற</text>
<text x="1332" y="2340" textLength="232" lengthAdjust="spacingAndGlyphs">தமிழ்நாடு பெண்கள் அணி</text>
<text x="1332" y="2361" textLength="232" lengthAdjust="spacingAndGlyphs">வீராங்கனைகள் துணை முத</text>
<text x="1332" y="2382" textLength="232" lengthAdjust="spacingAndGlyphs">லமைச்சர் அவர்களை சந்தித்து</text>
<text x="1332" y="2403" textLength="150" lengthAdjust="spacingAndGlyphs">வாழ்த்துப் பெற்றனர்.</text>
<text x="1352" y="2424" textLength="212" lengthAdjust="spacingAndGlyphs">மேலும், மலேசியாவில் 10</text>
<text x="1332" y="2445" textLength="232" lengthAdjust="spacingAndGlyphs">வது ஆசிய பசிபிக் காதுகேளா</text>
<text x="1332" y="2466" textLength="232" lengthAdjust="spacingAndGlyphs">தோர் போட்டிகளில் கலந்து</text>
<text x="1332" y="2487" textLength="232" lengthAdjust="spacingAndGlyphs">கொள்ள தமிழ்நாடு காதுகேளா</text>
<text x="1332" y="2508" textLength="232" lengthAdjust="spacingAndGlyphs">தோர் சங்கத்தின் சார்பில் நிதிஉ</text>
<text x="1332" y="2529" textLength="232" lengthAdjust="spacingAndGlyphs">தவி கேட்டுக்கொண்டதற்கி</text>
<text x="1332" y="2550" textLength="232" lengthAdjust="spacingAndGlyphs">ணங்க, 16.11.2024 அன்று</text>
</g>
<g class="r">
<text x="1581" y="2109" textLength="231" lengthAdjust="spacingAndGlyphs">தமிழ்நாடு சாம்பியன் அறகட்</text>
<text x="1581" y="2130" textLength="231" lengthAdjust="spacingAndGlyphs">டளை மூலம் தலா ரூ.20,000/</text>
<text x="1581" y="2151" textLength="231" lengthAdjust="spacingAndGlyphs">வீதம் 11 வீரர், வீராங்கனை</text>
<text x="1581" y="2172" textLength="231" lengthAdjust="spacingAndGlyphs">களுக்கு தமிழ்நாடு துணை</text>
<text x="1581" y="2193" textLength="231" lengthAdjust="spacingAndGlyphs">முதல மைச்சர் அவர்கள்</text>
<text x="1581" y="2214" textLength="231" lengthAdjust="spacingAndGlyphs">ரூ.2,20,000/நிதியுதவி காசோ</text>
<text x="1581" y="2235" textLength="231" lengthAdjust="spacingAndGlyphs">லைகளை வழங்கி வாழ்த்து</text>
<text x="1581" y="2256" textLength="231" lengthAdjust="spacingAndGlyphs">தெரிவித்து வழி அனுப்பிவைத்</text>
<text x="1581" y="2277" textLength="231" lengthAdjust="spacingAndGlyphs">தார். இப்போட்டியில் 4 தங்கம்,</text>
<text x="1581" y="2298" textLength="231" lengthAdjust="spacingAndGlyphs">6 வெள்ளி மற்றும் 4 வெண்கல</text>
<text x="1581" y="2319" textLength="231" lengthAdjust="spacingAndGlyphs">பதக்கங்கள் வென்ற விளை</text>
<text x="1581" y="2340" textLength="231" lengthAdjust="spacingAndGlyphs">யாட்டு வீரர், வீராங்கனைகள்</text>
<text x="1581" y="2361" textLength="231" lengthAdjust="spacingAndGlyphs">தமிழ்நாடு துணை முதலமைச்</text>
<text x="1581" y="2382" textLength="231" lengthAdjust="spacingAndGlyphs">சர் அவர்களை நேற்று சந்தித்து</text>
<text x="1581" y="2403" textLength="145" lengthAdjust="spacingAndGlyphs">வாழ்த்து பெற்றனர்.</text>
<text x="1601" y="2424" textLength="211" lengthAdjust="spacingAndGlyphs">தொடர்ந்து, தமிழ்நாடு</text>
<text x="1581" y="2445" textLength="231" lengthAdjust="spacingAndGlyphs">துணை முதலமைச்சர் உதய</text>
<text x="1581" y="2466" textLength="231" lengthAdjust="spacingAndGlyphs">நிதி ஸ்டாலின் அவர்கள் தமிழ்</text>
<text x="1581" y="2487" textLength="231" lengthAdjust="spacingAndGlyphs">நாடு விளையாட்டு மேம்பாட்டு</text>
<text x="1581" y="2508" textLength="231" lengthAdjust="spacingAndGlyphs">ஆணையத்தின் கீழ் 28 மாவட்</text>
<text x="1581" y="2529" textLength="231" lengthAdjust="spacingAndGlyphs">டங்களில் செயல்படும் 39</text>
</g>
<g class="r">
<text x="1832" y="2109" textLength="231" lengthAdjust="spacingAndGlyphs">விளையாட்டு விடுதிகளில் பயில்</text>
<text x="1832" y="2130" textLength="231" lengthAdjust="spacingAndGlyphs">கின்ற 2,400 மாணவ மாணவி</text>
<text x="1832" y="2151" textLength="231" lengthAdjust="spacingAndGlyphs">களுக்கு உயர்ரக ட்ராக் சூட் மற்</text>
<text x="1832" y="2172" textLength="231" lengthAdjust="spacingAndGlyphs">றும் இரண்டு டிஷர்ட்டுகளை</text>
<text x="1832" y="2193" textLength="231" lengthAdjust="spacingAndGlyphs">வழங்குவதன் அடையாளமாக</text>
<text x="1832" y="2214" textLength="231" lengthAdjust="spacingAndGlyphs">சென்னை நேரு விளை யாட்ட</text>
<text x="1832" y="2235" textLength="231" lengthAdjust="spacingAndGlyphs">ரங்க விளையாட்டு விடுதியைச்</text>
<text x="1832" y="2256" textLength="231" lengthAdjust="spacingAndGlyphs">சேர்ந்த 8 மாணவ, மாணவிக</text>
<text x="1832" y="2277" textLength="130" lengthAdjust="spacingAndGlyphs">ளுக்கு வழங்கினார்.</text>
<text x="1852" y="2298" textLength="211" lengthAdjust="spacingAndGlyphs">இந்நிகழ்வுகளில் இளைஞர்</text>
<text x="1832" y="2319" textLength="231" lengthAdjust="spacingAndGlyphs">நலன் மற்றும் விளையாட்டு</text>
<text x="1832" y="2340" textLength="231" lengthAdjust="spacingAndGlyphs">மேம்பாட்டுத்துறை அரசு கூடு</text>
<text x="1832" y="2361" textLength="231" lengthAdjust="spacingAndGlyphs">தல் தலைமைச் செயலாளர்</text>
<text x="1832" y="2382" textLength="231" lengthAdjust="spacingAndGlyphs">முனைவர் அதுல்ய மிஸ்ரா,</text>
<text x="1832" y="2403" textLength="231" lengthAdjust="spacingAndGlyphs">தமிழ்நாடு விளையாட்டு மேம்</text>
<text x="1832" y="2424" textLength="231" lengthAdjust="spacingAndGlyphs">பாட்டு ஆணைய உறுப்பினர்</text>
<text x="1832" y="2445" textLength="231" lengthAdjust="spacingAndGlyphs">செயலர் ஜெ.மேகநாத ரெட்டி,</text>
<text x="1832" y="2466" textLength="231" lengthAdjust="spacingAndGlyphs">மற்றும் அரசு உயர் அலுவலர்</text>
<text x="1832" y="2487" textLength="231" lengthAdjust="spacingAndGlyphs">கள் விளையாட்டு சங்கங்களின்</text>
<text x="1832" y="2508" textLength="231" lengthAdjust="spacingAndGlyphs">நிர்வாகிகள், பயிற்றுநர்கள்</text>
<text x="1832" y="2529" textLength="125" lengthAdjust="spacingAndGlyphs">கலந்து கொண்டனர்.</text>
</g>

<!-- bottom captions -->
<g class="c">
<text x="89" y="3103" textLength="960" lengthAdjust="spacingAndGlyphs">தென்காசி மாவட்டம் கீழப்பாவூர் ஊராட்சி ஒன்றியத்தில் உள்ள கழுநீர்குளம் ஊராட்சியில் தென்காசி தெற்கு மாவட்ட தி.மு.க. சார்பில் அமைய</text>
<text x="89" y="3125" textLength="960" lengthAdjust="spacingAndGlyphs">உள்ள கலைஞர் அவர்களின் அறிவாலய கட்டிடத்திற்கு கழக துணை பொதுச் செயலாளர் கனிமொழி கருணாநிதி எம்.பி. அடிக்கல் நாட்டியும்,</text>
<text x="89" y="3148" textLength="960" lengthAdjust="spacingAndGlyphs">முத்தமிழ் அறிஞர் கலைஞர் அவர்கள் நூற்றாண்டு விழா கொடிக்கம்பத்தில் கழக கொடி ஏற்றியும் பணிகளை துவக்கி வைத்தார். உடன்</text>
<text x="89" y="3170" textLength="960" lengthAdjust="spacingAndGlyphs">தென்காசி தெற்கு மாவட்டப் பொறுப்பாளர் வே.ஜெயபாலன், தென்காசி நாடாளுமன்ற உறுப்பினர் மரு. ராணி ஸ்ரீகுமார், முன்னாள் அமைச்சர்</text>
<text x="89" y="3193" textLength="769" lengthAdjust="spacingAndGlyphs">பூங்கோதை ஆலடி அருணா, ஒன்றிய செயலாளர் சிவன்பாண்டியன் உள்பட கழக நிர்வாகிகள் பலர் உள்ளனர்.</text>
</g>
<g class="c">
<text x="1096" y="3049" textLength="947" lengthAdjust="spacingAndGlyphs">அமைச்சர்கள் இ.பெரியசாமி,   கே.ஆர்.பெரியகருப்பன்   மற்றும்   அர.சக்கரபாணி   ஆகியோர் - உணவுப்பொருள் வழங்கல் மற்றும்</text>
<text x="1096" y="3072" textLength="947" lengthAdjust="spacingAndGlyphs">நுகர்வோர் பாதுகாப்புத்துறை சார்பில் திண்டுக்கல் பி.எஸ்.என்.ஏ. பொறியியல் கல்லூரியில்  29.01.2025  அன்று நடைபெற்ற மாநில</text>
<text x="1096" y="3096" textLength="947" lengthAdjust="spacingAndGlyphs">அளவிலான சிறுதானிய உணவுத் திருவிழாவில், நுகர்வோர் பாதுகாப்பில் சிறப்பாகச் செயல்பட்டதற்காக முதல் பரிசு பெற்ற திருநெல்வேலி</text>
<text x="1096" y="3119" textLength="947" lengthAdjust="spacingAndGlyphs">மாவட்டத்திற்கு பாராட்டுச்சான்றிதழ் மற்றும் கேடயத்தை திருநெல்வேலி மாவட்ட ஆட்சித்தலைவர் மரு.கா.ப.கார்த்திகேயனிடம் வழங்கினர்.</text>
<text x="1096" y="3143" textLength="947" lengthAdjust="spacingAndGlyphs">அருகில் கூட்டுறவு உணவு மற்றும் நுகர்வோர் பாதுகாப்புத்துறை அரசு கூடுதல் தலைமைச் செயலாளர் மரு.ஜெ.ராதாகிருஷ்ணன்  மற்றும்</text>
<text x="1096" y="3166" textLength="947" lengthAdjust="spacingAndGlyphs">அரசு உயரதிகாரிகள், திண்டுக்கல் மாவட்ட ஆட்சித்தலைவர் திருமதி மொ.நா.பூங்கொடி, திண்டுக்கல் நாடாளுமன்ற உறுப்பினர்</text>
<text x="1096" y="3189" textLength="935" lengthAdjust="spacingAndGlyphs">ஆர்.சச்சிதானந்தம், சட்டமன்ற உறுப்பினர் ச.காந்திராஜன், திண்டுக்கல் மேயர் திருமதி இளமதி ஜோதிபிரகாஷ் மற்றும் பலர் உள்ளனர்.</text>
</g>
</svg>
</body></html>
